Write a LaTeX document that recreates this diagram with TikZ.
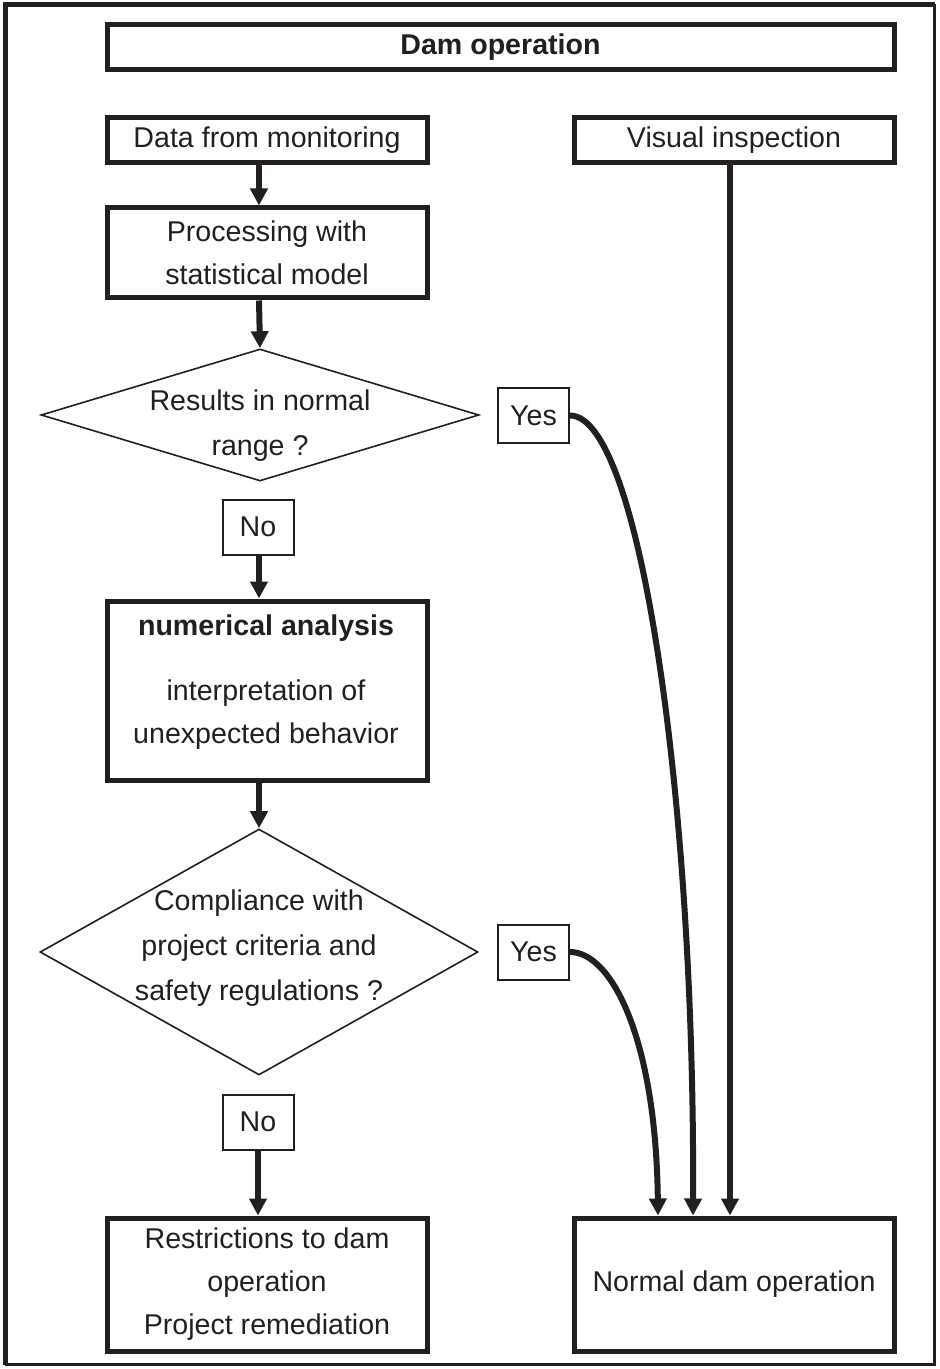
\documentclass[tikz,border=0pt]{standalone}
\usepackage{fontspec}
\setmainfont{Liberation Sans}
\usetikzlibrary{shapes.geometric,arrows.meta}
\definecolor{ink}{HTML}{231F20}
\begin{document}
\begin{tikzpicture}[x=0.5pt,y=-0.5pt,
  font=\fontsize{14.3}{21.5}\selectfont,
  every node/.style={text=ink},
  bigbox/.style={draw=ink,line width=2.5pt,minimum width=160pt,inner sep=0pt,align=center},
  tag/.style={draw=ink,line width=1pt,minimum width=35.5pt,minimum height=27.5pt,inner sep=0pt},
  decision/.style={draw=ink,line width=0.8pt,diamond,inner sep=0pt},
  flow/.style={draw=ink,line width=3pt,-{Triangle[length=8.5pt 0 0,width=8.5pt 0 0]}},
]
\useasboundingbox (0,0) rectangle (939,1369);
% outer frame
\draw[ink,line width=2.5pt] (5,1364.5) -- (5,4.5) -- (934.5,4.5);
\draw[ink,line width=1.25pt] (934.5,4.5) -- (934.5,1364.5) -- (5,1364.5);

\node[bigbox,minimum width=393.5pt,minimum height=22.5pt] (dam) at (500.5,47.5) {\bfseries Dam operation};
\node[bigbox,minimum height=22.5pt] (data) at (267,140.5) {Data from monitoring};
\node[bigbox,minimum height=22.5pt] (visual) at (734,140.5) {Visual inspection};
\node[bigbox,minimum height=45pt] (proc) at (267,253) {Processing with\\statistical model};
\node[decision,minimum width=219pt,minimum height=66pt] (d1) at (260,415) {};
\node[align=center,font=\fontsize{14.3}{22.5}\selectfont] (d1text) at (260,425.5) {Results in normal\\range ?};
\node[tag] (yes1) at (533.5,415.5) {Yes};
\node[tag] (no1) at (258,527) {No};
\node[bigbox,minimum height=89.5pt] (num) at (267,690.5) {};
\node[align=center] (numtext) at (266,682) {\textbf{numerical analysis}\\[11pt]interpretation of\\unexpected behavior};
\node[decision,minimum width=219pt,minimum height=123pt] (d2) at (259,952) {};
\node[align=center,font=\fontsize{14.3}{22.5}\selectfont] (d2text) at (259,948) {Compliance with\\project criteria and\\safety regulations ?};
\node[tag] (yes2) at (533.5,952) {Yes};
\node[tag] (no2) at (258,1122) {No};
\node[bigbox,minimum height=66.5pt] (restr) at (267,1284.5) {Restrictions to dam\\operation\\Project remediation};
\node[bigbox,minimum height=66.5pt] (normal) at (734,1284.5) {Normal dam operation};

% connectors
\coordinate (col) at (259,0);
\coordinate (inA) at (658,0);
\coordinate (inB) at (693,0);
\coordinate (inC) at (730,0);
\draw[flow] (data.south -| col) -- (proc.north -| col);
\draw[flow] (proc.south -| col) -- (d1.north);
\draw[flow] (no1.south -| col) -- (num.north -| col);
\draw[flow] (num.south -| col) -- (d2.north);
\draw[flow] (no2.south) -- (restr.north -| no2.south);
\draw[flow] (visual.south -| inC) -- (normal.north -| inC);
\draw[flow] (yes1.east) .. controls (640,415.5) and (695,800) .. (normal.north -| inB);
\draw[flow] (yes2.east) .. controls (612,952) and (656,1040) .. (normal.north -| inA);
\end{tikzpicture}
\end{document}
